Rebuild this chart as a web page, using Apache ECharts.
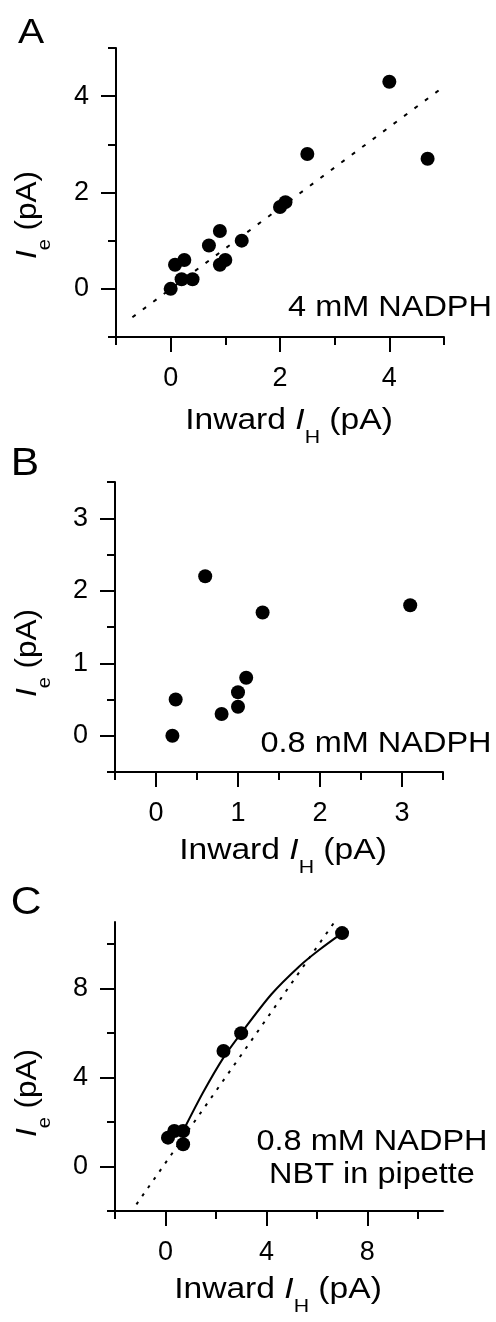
<!DOCTYPE html>
<html>
<head>
<meta charset="utf-8">
<title>Ie vs inward IH</title>
<script src="https://cdn.jsdelivr.net/npm/echarts@6/dist/echarts.min.js"></script>
<style>
  html, body { margin: 0; padding: 0; background: #fff; }
  #chart { width: 496px; height: 1322px; }
</style>
</head>
<body>
<div id="chart"></div>
<script>
// panel A - 4 mM NADPH
var ptsA = [[0, 0], [0.08, 0.5], [0.25, 0.6], [0.2, 0.2], [0.4, 0.2], [0.7, 0.9], [0.9, 1.2],
            [0.9, 0.5], [1.0, 0.6], [1.3, 1.0], [2.0, 1.7], [2.1, 1.8], [2.5, 2.8], [4.0, 4.3], [4.7, 2.7]]
var lineA = [[-0.7, -0.59], [5.0, 4.2]]
var ticksA = [0, 2, 4]
var minorA = [-1, 1, 3, 5]

// panel B - 0.8 mM NADPH
var ptsB = [[0.2, 0], [0.24, 0.5], [0.6, 2.2], [0.8, 0.3], [1.0, 0.6], [1.0, 0.4], [1.1, 0.8], [1.3, 1.7], [3.1, 1.8]]
var ticksB = [0, 1, 2, 3]
var minorB = [-0.5, 0.5, 1.5, 2.5, 3.5]

// panel C - 0.8 mM NADPH, NBT in pipette
var ptsC = [[0.1, 1.3], [0.35, 1.6], [0.7, 1.6], [0.7, 1.0], [2.3, 5.2], [3.0, 6.0], [7.0, 10.5]]
var curveC = [[0.7, 1.6], [1.5, 3.35], [2.3, 4.9], [3.0, 6.0], [4.2, 7.75], [5.3, 9.0], [6.1, 9.75], [7.0, 10.5]]
var lineC = [[-1.15, -1.7], [6.7, 11]]
var ticksC = [0, 4, 8]
var minorC = [-2, 2, 6, 10]

var FONT = '"Liberation Sans", Arial, Helvetica, sans-serif'

var axisPair = function(pos, grid, min, max, major, minor) {
    var isX = pos === 'bottom'
    var main = {
        type: 'value', gridIndex: grid, position: pos, min: min, max: max,
        axisLine: {onZero: false, lineStyle: {color: '#000', width: 2}},
        axisTick: {length: 15, customValues: major, lineStyle: {color: '#000', width: 2}},
        axisLabel: {customValues: major, margin: isX ? 28 : 27, fontSize: 27, color: '#000', fontFamily: FONT},
        splitLine: {show: false}
    }
    var small = {
        type: 'value', gridIndex: grid, position: pos, min: min, max: max,
        axisLine: {show: false, onZero: false},
        axisTick: {length: 8, customValues: minor, lineStyle: {color: '#000', width: 2}},
        axisLabel: {show: false},
        splitLine: {show: false}
    }
    return [main, small]
}

var dots = function(idx, data) {
    return {
        type: 'scatter', xAxisIndex: idx, yAxisIndex: idx, data: data,
        symbolSize: 14, itemStyle: {color: '#000', opacity: 1}, z: 3
    }
}

var line = function(idx, data, dash, smooth) {
    return {
        type: 'line', xAxisIndex: idx, yAxisIndex: idx, data: data,
        showSymbol: false, smooth: smooth || false,
        lineStyle: {color: '#000', width: 2, type: dash}, z: 2
    }
}

var rich = {
    n: {fontSize: 30, fontFamily: FONT, fill: '#000'},
    i: {fontSize: 30, fontFamily: FONT, fontStyle: 'italic', fill: '#000'},
    s: {fontSize: 19, fontFamily: FONT, fill: '#000', padding: [34, 0, 0, 0]}
}

var xTitle = function(x, y) {
    return {
        type: 'text', x: x, y: y, scaleX: 1.12,
        style: {text: '{n|Inward }{i|I}{s|H}{n| (pA)}', rich: rich, align: 'center', verticalAlign: 'middle'}
    }
}

var yTitle = function(x, y) {
    return {
        type: 'text', x: x, y: y, rotation: Math.PI / 2, scaleX: 1.05,
        style: {text: '{i|I}{s|e}{n| (pA)}', rich: rich, align: 'center', verticalAlign: 'middle'}
    }
}

var label = function(txt, x, y, size) {
    return {
        type: 'text', x: x, y: y, scaleX: 1.12,
        style: {text: txt, fontSize: size, fontFamily: FONT, fill: '#000', align: 'center', verticalAlign: 'middle'}
    }
}

var axA = [axisPair('bottom', 0, -1, 5, ticksA, minorA), axisPair('left', 0, -1, 5, ticksA, minorA)]
var axB = [axisPair('bottom', 1, -0.5, 3.5, ticksB, minorB), axisPair('left', 1, -0.5, 3.5, ticksB, minorB)]
var axC = [axisPair('bottom', 2, -2, 11, ticksC, minorC), axisPair('left', 2, -2, 11, ticksC, minorC)]

var option = {
    backgroundColor: '#fff',
    animation: false,
    grid: [
        {left: 116, top: 48, width: 328, height: 289, outerBoundsMode: 'none'},
        {left: 115, top: 482, width: 328, height: 290, outerBoundsMode: 'none'},
        {left: 115, top: 922, width: 328, height: 289, outerBoundsMode: 'none'}
    ],
    xAxis: axA[0].concat(axB[0], axC[0]),
    yAxis: axA[1].concat(axB[1], axC[1]),
    series: [
        line(0, lineA, [4, 9]),
        dots(0, ptsA),
        dots(2, ptsB),
        line(4, lineC, [3, 7]),
        line(4, curveC, 'solid', 0.3),
        dots(4, ptsC)
    ],
    graphic: [
        label('A', 31, 33, 35),
        label('B', 25, 465, 38),
        label('C', 26, 904, 38),
        label('4 mM NADPH', 390, 308, 29),
        label('0.8 mM NADPH', 376, 744, 29),
        label('0.8 mM NADPH', 372, 1142, 29),
        label('NBT in pipette', 372, 1175, 29),
        xTitle(289, 421),
        xTitle(283, 851),
        xTitle(278, 1290),
        yTitle(28, 215),
        yTitle(28, 653),
        yTitle(28, 1093)
    ]
}

var myChart = echarts.init(document.getElementById('chart'))
myChart.setOption(option)
</script>
</body>
</html>
